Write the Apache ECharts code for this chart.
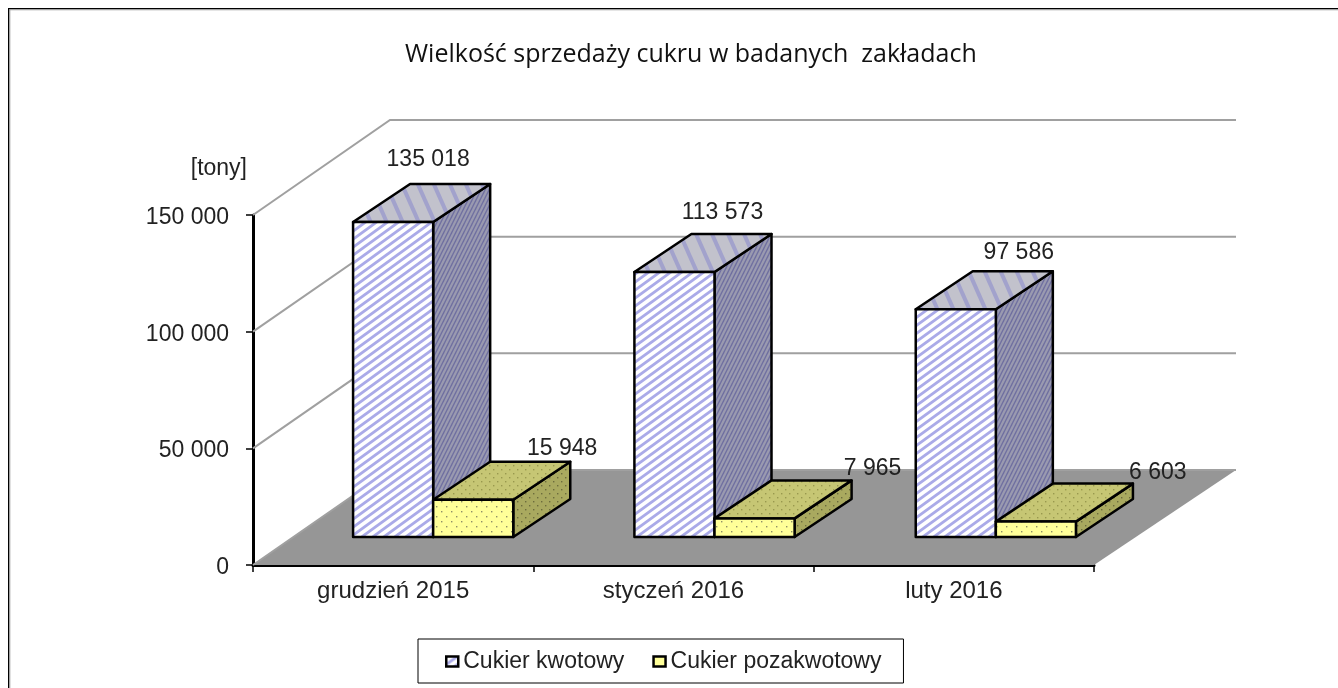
<!DOCTYPE html>
<html>
<head>
    <meta charset="utf-8">
    <title>Wielkość sprzedaży cukru</title>
    <style>
        html, body { margin: 0; padding: 0; background: #fff; }
        #main { width: 1338px; height: 688px; }
    </style>
</head>
<body>
<div id="main"></div>
<script src="https://cdn.jsdelivr.net/npm/echarts@6/dist/echarts.min.js"></script>
<script>
// dane
var months = ['grudzień 2015', 'styczeń 2016', 'luty 2016'];
var kwotowy = [135018, 113573, 97586];
var pozakwotowy = [15948, 7965, 6603];
var yTicks = [0, 50000, 100000, 150000];
var seriesNames = ['Cukier kwotowy', 'Cukier pozakwotowy'];

// rzut glebi 3D (px)
var FLOOR = [137, -95];
var FRONT = [40, -28];
var BAR_DEPTH = [57, -38];
// korekta polozenia grup slupkow (px)
var groupNudge = [0, 1, 2];
// przesuniecie etykiet wzgledem srodka przedniej sciany slupka
var labelShift = [
    [[35, -62], [48, -59], [63, -57]],
    [[89, -51], [118, -50], [122, -49]]
];

function stripes(bg, fg, w, h, lw, back) {
    var c = document.createElement('canvas');
    c.width = w; c.height = h;
    var g = c.getContext('2d');
    g.fillStyle = bg; g.fillRect(0, 0, w, h);
    g.strokeStyle = fg; g.lineWidth = lw;
    // linie wyprowadzone poza kafelek, zeby nie bylo przerw na laczeniach
    for (var k = -2; k <= 2; k++) {
        g.beginPath();
        if (back) { g.moveTo((k - 1) * w, -h); g.lineTo((k + 2) * w, 2 * h); }
        else { g.moveTo((k - 1) * w, 2 * h); g.lineTo((k + 2) * w, -h); }
        g.stroke();
    }
    return { image: c, repeat: 'repeat' };
}

function dots(bg, fg, step) {
    var c = document.createElement('canvas');
    c.width = step * 2; c.height = step * 2;
    var g = c.getContext('2d');
    g.fillStyle = bg; g.fillRect(0, 0, step * 2, step * 2);
    g.fillStyle = fg;
    g.fillRect(1, 1, 1.4, 1.4);
    g.fillRect(step + 1, step + 1, 1.4, 1.4);
    return { image: c, repeat: 'repeat' };
}

var faces = [
    {
        front: stripes('#ffffff', '#aaaae8', 11, 8, 2.8, false),
        top: stripes('#c2c2cc', '#a2a2cc', 16, 36, 4, true),
        side: stripes('#9a9ab0', '#6f6fa0', 4, 8, 1.4, false)
    },
    {
        front: dots('#ffff99', '#8f8f66', 5),
        top: dots('#c6c674', '#98984f', 4),
        side: dots('#a9a95f', '#6c6c3c', 4)
    }
];

function fmt(v) {
    return String(v).replace(/\B(?=(\d{3})+$)/g, ' ');
}

function poly(points, fill) {
    return {
        type: 'polygon',
        shape: { points: points },
        style: { fill: fill, stroke: '#000', lineWidth: 2.5, lineJoin: 'round' }
    };
}

function renderBar(seriesIdx) {
    return function (params, api) {
        var i = api.value(0), v = api.value(1);
        var base = api.coord([i, 0]);
        var tip = api.coord([i, v]);
        var w = api.size([1, 0])[0] / 3.5;
        var x0 = base[0] - w + seriesIdx * w + FRONT[0] + groupNudge[i];
        var x1 = x0 + w;
        var y0 = base[1] + FRONT[1];
        var y1 = tip[1] + FRONT[1];
        var dx = BAR_DEPTH[0], dy = BAR_DEPTH[1];
        var f = faces[seriesIdx];
        var shift = labelShift[seriesIdx][i];
        return {
            type: 'group',
            children: [
                poly([[x1, y0], [x1 + dx, y0 + dy], [x1 + dx, y1 + dy], [x1, y1]], f.side),
                poly([[x0, y1], [x1, y1], [x1 + dx, y1 + dy], [x0 + dx, y1 + dy]], f.top),
                poly([[x0, y0], [x1, y0], [x1, y1], [x0, y1]], f.front),
                {
                    type: 'text',
                    style: {
                        text: fmt(v),
                        x: (x0 + x1) / 2 + shift[0],
                        y: y1 + shift[1],
                        align: 'center',
                        verticalAlign: 'middle',
                        font: '23px "Liberation Sans"',
                        fill: '#222'
                    }
                }
            ]
        };
    };
}

function renderWall(params, api) {
    var v = api.value(1);
    var cs = params.coordSys;
    var y = api.coord([0, v])[1];
    var x = cs.x;
    var right = cs.x + cs.width;
    var kids = [];
    if (v === 0) {
        kids.push({
            type: 'polygon',
            shape: { points: [[x, y], [x + FLOOR[0], y + FLOOR[1]], [right + 142, y + FLOOR[1]], [right, y]] },
            style: { fill: '#969696' }
        });
    }
    kids.push({
        type: 'polyline',
        shape: { points: [[x, y], [x + FLOOR[0], y + FLOOR[1]], [right + 142, y + FLOOR[1]]] },
        style: { fill: 'none', stroke: '#a0a0a0', lineWidth: 2 }
    });
    return { type: 'group', children: kids };
}

var myChart = echarts.init(document.getElementById('main'), null, { renderer: 'canvas' });

var option = {
    animation: false,
    backgroundColor: '#fff',
    textStyle: { fontFamily: '"Liberation Sans"' },
    title: {
        text: 'Wielkość sprzedaży cukru w badanych  zakładach',
        left: 405,
        top: 42,
        padding: 0,
        textStyle: { fontFamily: '"Open Sans"', fontWeight: 'normal', fontSize: 25, color: '#111' }
    },
    legend: {
        left: 418,
        top: 639,
        data: [
            { name: seriesNames[0], icon: 'rect', itemStyle: { color: faces[0].front, borderColor: '#000', borderWidth: 2.5 } },
            { name: seriesNames[1], icon: 'rect', itemStyle: { color: '#ffff99', borderColor: '#000', borderWidth: 2.5 } }
        ],
        selectedMode: false,
        backgroundColor: '#fff',
        borderColor: '#000',
        borderWidth: 1,
        padding: [11, 22, 10, 27],
        itemWidth: 12,
        itemHeight: 10,
        itemGap: 28,
        textStyle: { fontFamily: '"Liberation Sans"', fontSize: 23, color: '#222' }
    },
    grid: { left: 253, right: 244, top: 215, bottom: 123 },
    xAxis: {
        type: 'category',
        data: months,
        boundaryGap: true,
        axisLine: { lineStyle: { color: '#000', width: 3 } },
        axisTick: { show: true, alignWithLabel: false, length: 7, lineStyle: { color: '#000', width: 1.5 } },
        axisLabel: { color: '#222', fontSize: 24, margin: 14, fontFamily: '"Liberation Sans"' }
    },
    yAxis: {
        type: 'value',
        min: 0,
        max: 150000,
        interval: 50000,
        name: '[tony]',
        nameLocation: 'end',
        nameGap: 35,
        nameTextStyle: { color: '#222', fontSize: 23, align: 'right', padding: [0, 6, 0, 0], fontFamily: '"Liberation Sans"' },
        splitLine: { show: false },
        axisLine: { show: true, lineStyle: { color: '#000', width: 3 } },
        axisTick: { show: true, length: 7, lineStyle: { color: '#000', width: 1.5 } },
        axisLabel: {
            margin: 24,
            formatter: function (v) { return '{t|' + fmt(v) + '}'; },
            rich: { t: { color: '#222', fontSize: 23, fontFamily: '"Liberation Sans"', padding: [5, 0, 0, 0] } }
        }
    },
    series: [
        {
            name: 'sciana',
            type: 'custom',
            coordinateSystem: 'cartesian2d',
            silent: true,
            clip: false,
            z: 1,
            encode: { x: 0, y: 1 },
            data: yTicks.map(function (v) { return [0, v]; }),
            renderItem: renderWall
        },
        {
            name: seriesNames[0],
            type: 'custom',
            coordinateSystem: 'cartesian2d',
            clip: false,
            z: 2,
            encode: { x: 0, y: 1 },
            data: kwotowy.map(function (v, i) { return [i, v]; }),
            renderItem: renderBar(0)
        },
        {
            name: seriesNames[1],
            type: 'custom',
            coordinateSystem: 'cartesian2d',
            clip: false,
            z: 3,
            encode: { x: 0, y: 1 },
            data: pozakwotowy.map(function (v, i) { return [i, v]; }),
            renderItem: renderBar(1)
        }
    ],
    graphic: [
        { type: 'rect', silent: true, shape: { x: 8, y: 8, width: 1330, height: 1.3 }, style: { fill: '#000' } },
        { type: 'rect', silent: true, shape: { x: 9, y: 9.3, width: 1329, height: 1 }, style: { fill: '#999' } },
        { type: 'rect', silent: true, shape: { x: 8, y: 8, width: 1.3, height: 680 }, style: { fill: '#000' } },
        { type: 'rect', silent: true, shape: { x: 9.3, y: 9, width: 1, height: 679 }, style: { fill: '#999' } }
    ]
};
myChart.setOption(option);
</script>
</body>
</html>
